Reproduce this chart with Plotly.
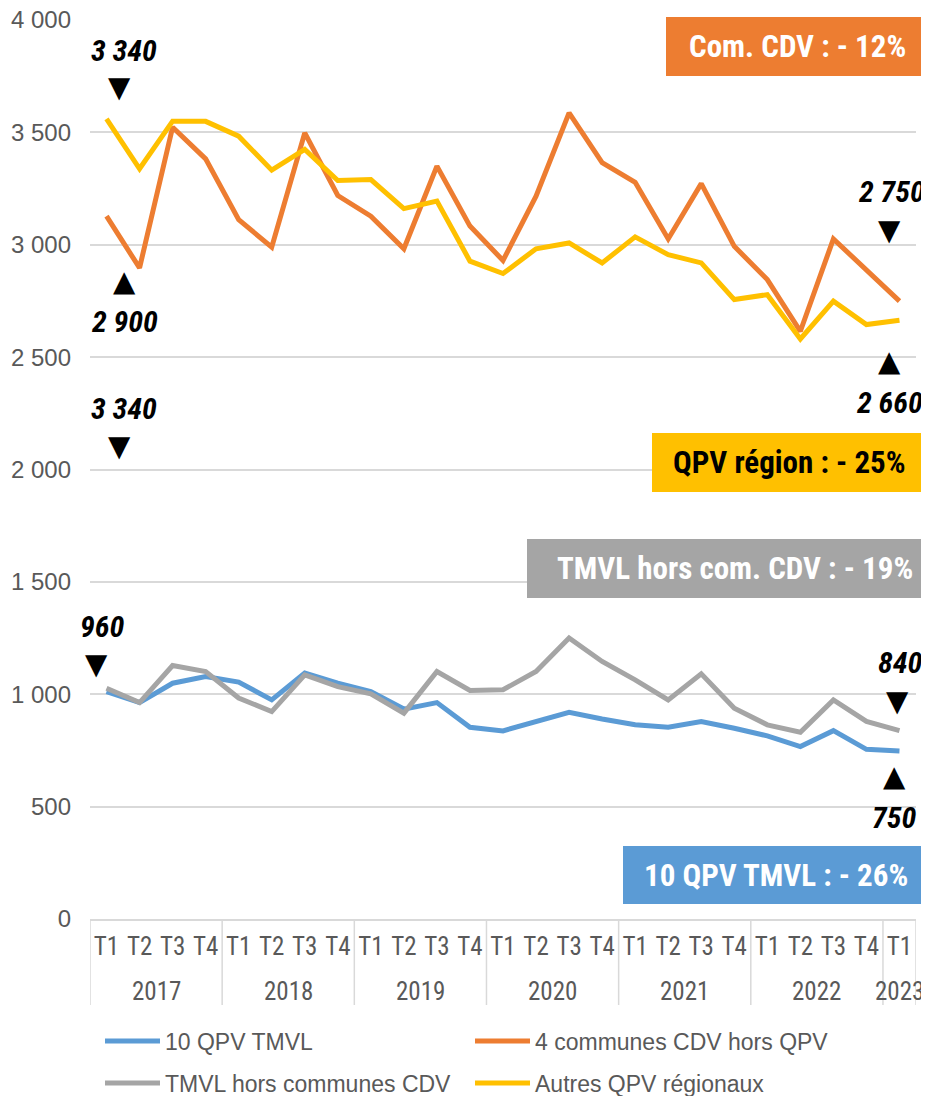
import plotly.graph_objects as go

years = ["2017"] * 4 + ["2018"] * 4 + ["2019"] * 4 + ["2020"] * 4 + ["2021"] * 4 + ["2022"] * 4 + ["2023"]
quarters = ["T1", "T2", "T3", "T4"] * 6 + ["T1"]

qpv_tmvl = [1012, 963, 1049, 1079, 1054, 975, 1094, 1049, 1012, 934, 963, 853,
            837, 879, 920, 890, 864, 853, 879, 849, 815, 767, 838, 755, 748]
communes_cdv = [3127, 2897, 3523, 3382, 3112, 2989, 3498, 3219, 3127, 2982, 3350, 3083,
                2930, 3216, 3587, 3365, 3278, 3026, 3272, 2993, 2845, 2615, 3026, 2887, 2749]
tmvl_hors = [1027, 963, 1128, 1101, 983, 923, 1086, 1034, 1002, 916, 1101, 1017,
             1020, 1101, 1250, 1146, 1064, 975, 1091, 938, 864, 831, 975, 879, 838]
autres_qpv = [3560, 3338, 3550, 3549, 3483, 3332, 3424, 3286, 3290, 3161, 3194, 2927,
              2872, 2982, 3008, 2919, 3035, 2956, 2919, 2756, 2778, 2581, 2749, 2645, 2664]

series_names = ["10 QPV TMVL", "4 communes CDV hors QPV", "TMVL hors communes CDV", "Autres QPV régionaux"]
series_colors = ["#5B9BD5", "#ED7D31", "#A5A5A5", "#FFC000"]
series_values = [qpv_tmvl, communes_cdv, tmvl_hors, autres_qpv]
series_legend = ["legend", "legend", "legend2", "legend2"]

y_ticks = [0, 500, 1000, 1500, 2000, 2500, 3000, 3500, 4000]

categories = [f"{y} {q}" for y, q in zip(years, quarters)]

NARROW = "Roboto Condensed, Liberation Sans Narrow, Arial Narrow, sans-serif"
REG = "Liberation Sans, Arial, sans-serif"
GREY_TXT = "#595959"
AXIS_GREY = "#D9D9D9"

fig = go.Figure()
for name, col, vals, lg in zip(series_names, series_colors, series_values, series_legend):
    fig.add_trace(go.Scatter(
        x=categories, y=vals, mode="lines", name=name,
        line=dict(color=col, width=5), legend=lg,
    ))

# the page body has an 8px margin: figure is shifted by OFF in the viewport
OFF = 8
VW, VH = 929, 1096
W, H = VW - OFF, VH - OFF
PL, PR, PT, PB = 90, 916, 20, 919       # plot area edges in viewport pixels
L, R, T, B = PL - OFF, VW - PR, PT - OFF, VH - PB


def px(x):
    return (x - PL) / (PR - PL)


def py(y):
    return (PB - y) / (PB - PT)


shapes = []
annotations = []

# year group labels and dividers
groups = []
for i, y in enumerate(years):
    if not groups or groups[-1][0] != y:
        groups.append([y, i, i])
    else:
        groups[-1][2] = i
for y, i0, i1 in groups:
    annotations.append(dict(xref="x", yref="paper", x=(i0 + i1) / 2, y=py(991),
                            text=y, showarrow=False, xanchor="center", yanchor="middle",
                            font=dict(family=NARROW, size=25, color=GREY_TXT)))
    shapes.append(dict(type="line", xref="x", yref="paper", x0=i0 - 0.5, x1=i0 - 0.5,
                       y0=0, y1=py(1005), line=dict(color=AXIS_GREY, width=1.5)))
shapes.append(dict(type="line", xref="x", yref="paper", x0=groups[-1][2] + 0.5, x1=groups[-1][2] + 0.5,
                   y0=0, y1=py(1005), line=dict(color=AXIS_GREY, width=1.5)))

# coloured boxes: (x0, x1, y0, y1, fill, text, text colour, text centre x)
boxes = [
    (666, 929, 17, 76, "#ED7D31", "Com. CDV : - 12%", "white", 797),
    (652, 929, 433, 492, "#FFC000", "QPV région : - 25%", "black", 789),
    (527, 929, 539, 598, "#A5A5A5", "TMVL hors com. CDV : - 19%", "white", 735),
    (623, 929, 846, 904, "#5B9BD5", "10 QPV TMVL : - 26%", "white", 776),
]
for x0, x1, y0, y1, fill, txt, tc, cx in boxes:
    shapes.append(dict(type="rect", xref="paper", yref="paper",
                       x0=px(x0), x1=px(x1), y0=py(y1), y1=py(y0),
                       fillcolor=fill, line=dict(width=0), layer="above"))
    annotations.append(dict(xref="paper", yref="paper", x=px(cx), y=py((y0 + y1) / 2),
                            text=f"<b>{txt}</b>", showarrow=False, xanchor="center", yanchor="middle",
                            font=dict(family=NARROW, size=31, color=tc)))

# value labels with triangles: (text, tx, ty, triangle, trx, try)
labels = [
    ("3 340", 124, 50, "▼", 119, 87),
    ("2 900", 124, 322, "▲", 124, 281),
    ("3 340", 124, 408, "▼", 119, 446),
    ("2 750", 891, 191, "▼", 889, 230),
    ("2 660", 889, 402, "▲", 889, 361),
    ("960", 102, 626, "▼", 96, 664),
    ("840", 900, 662, "▼", 897, 701),
    ("750", 894, 817, "▲", 894, 776),
]
for txt, tx, ty, tri, trx, tr_y in labels:
    annotations.append(dict(xref="paper", yref="paper", x=px(tx), y=py(ty),
                            text=f"<b><i>{txt}</i></b>", showarrow=False,
                            xanchor="center", yanchor="middle",
                            font=dict(family=NARROW, size=30, color="black")))
    annotations.append(dict(xref="paper", yref="paper", x=px(trx), y=py(tr_y),
                            text=tri, showarrow=False, xanchor="center", yanchor="middle",
                            font=dict(family="DejaVu Sans", size=29, color="black")))

legend_font = dict(family=REG, size=23, color=GREY_TXT)
fig.update_layout(
    width=W, height=H,
    margin=dict(l=L, r=R, t=T, b=B, autoexpand=False),
    paper_bgcolor="white", plot_bgcolor="white",
    separators=", ",
    shapes=shapes, annotations=annotations,
    legend=dict(orientation="h", x=px(100), y=py(1041), xanchor="left", yanchor="middle",
                entrywidth=300, entrywidthmode="pixels", itemwidth=55,
                font=legend_font, bgcolor="rgba(0,0,0,0)"),
    legend2=dict(orientation="h", x=px(100), y=py(1083), xanchor="left", yanchor="middle",
                 entrywidth=300, entrywidthmode="pixels", itemwidth=55,
                 font=legend_font, bgcolor="rgba(0,0,0,0)"),
    xaxis=dict(type="category", range=[-0.5, len(categories) - 0.5], showgrid=False,
               showline=True, linecolor=AXIS_GREY, linewidth=1.5,
               ticks="", tickangle=0, tickmode="array", tickvals=categories, ticktext=quarters,
               ticklabelstandoff=4,
               tickfont=dict(family=NARROW, size=25, color=GREY_TXT)),
    yaxis=dict(range=[0, 4000], tickmode="array", tickvals=y_ticks, tickformat=",d",
               showgrid=True, gridcolor=AXIS_GREY, ticklabeloverflow="allow",
               gridwidth=1.5, zeroline=False, showline=False, ticks="", ticklabelstandoff=18,
               tickfont=dict(family=REG, size=24, color=GREY_TXT)),
)

fig.write_html("out.html")
